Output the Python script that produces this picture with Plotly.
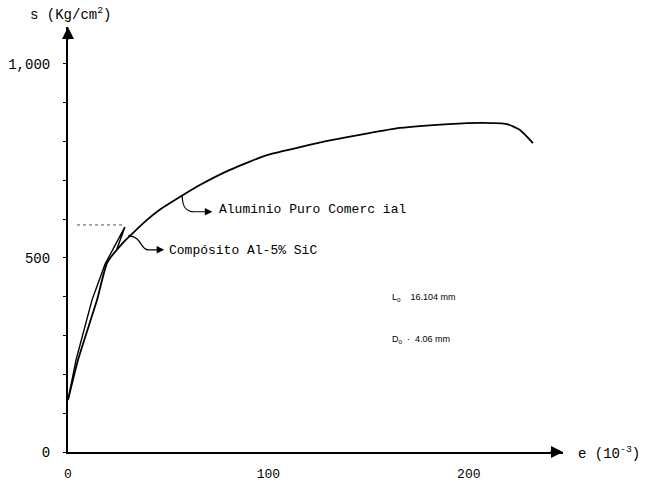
import plotly.graph_objects as go

# Aluminio Puro Comercial (stress-strain)
alu_x = [0, 5, 14.5, 19.5, 27.4, 39.4, 45.9, 57, 65.8, 80.8, 99.3, 132, 165.6, 190, 207, 219, 225.4, 232]
alu_y = [134, 237, 392, 487, 539, 598, 625, 661, 688, 727, 765, 804, 835, 845, 848, 845, 830, 796]

# Compósito Al-5% SiC
comp_x = [0, 4, 12, 18.5, 28.4, 24.4]
comp_y = [134, 237, 392, 484, 580, 523]

# dotted reference line (max stress of composite)
ref_x = [4.5, 27]
ref_y = [585, 585]

y_tickvals = [0, 500, 1000]
y_ticktext = ["0", "500", "1,000"]
x_tickvals = [0, 100, 200]
x_ticktext = ["0", "100", "200"]

X_MAX = 247
Y_MAX = 1095
MONO = "Liberation Mono"

# plot-area geometry in pixels (for placing free text)
W, H = 656, 482
L, R, T, B = 68, 93, 27, 30
PW, PH = W - L - R, H - T - B


def px_to_paper(px, py):
    return (px - L) / PW, (H - B - py) / PH


fig = go.Figure()
fig.add_trace(go.Scatter(x=alu_x, y=alu_y, mode="lines",
                         line=dict(color="black", width=1.8, shape="spline", smoothing=0.5),
                         showlegend=False))
fig.add_trace(go.Scatter(x=comp_x, y=comp_y, mode="lines",
                         line=dict(color="black", width=1.4),
                         showlegend=False))
fig.add_trace(go.Scatter(x=ref_x, y=ref_y, mode="lines",
                         line=dict(color="#555555", width=1, dash="dot"),
                         showlegend=False))

fig.update_layout(
    width=W, height=H,
    margin=dict(l=L, r=R, t=T, b=B, autoexpand=False),
    paper_bgcolor="white", plot_bgcolor="white",
    font=dict(family=MONO, size=14, color="black"),
    xaxis=dict(range=[0, X_MAX], showgrid=False, zeroline=False, showline=True, automargin=False,
               linecolor="black", linewidth=2, tickvals=x_tickvals, ticktext=x_ticktext,
               ticks="", ticklabelstandoff=8, tickfont=dict(family=MONO, size=13)),
    yaxis=dict(range=[0, Y_MAX], showgrid=False, zeroline=False, showline=True, automargin=False,
               linecolor="black", linewidth=2, tickvals=y_tickvals, ticktext=y_ticktext,
               ticks="outside", ticklen=3, tickwidth=1, tickcolor="black",
               minor=dict(dtick=100, tick0=0, ticks="outside", ticklen=3, tickwidth=1, tickcolor="black"),
               ticklabelstandoff=10, tickfont=dict(family=MONO, size=14)),
)

# axis arrowheads
fig.add_annotation(x=0, y=Y_MAX, xref="x", yref="y", ax=0, ay=14,
                   text="", showarrow=True, arrowhead=2, arrowsize=1.2, arrowwidth=2, arrowcolor="black")
fig.add_annotation(x=X_MAX, y=0, xref="x", yref="y", ax=-14, ay=0,
                   text="", showarrow=True, arrowhead=2, arrowsize=1.2, arrowwidth=2, arrowcolor="black")

# axis titles
tx, ty = px_to_paper(28, 14)
fig.add_annotation(x=tx, y=ty, xref="paper", yref="paper",
                   text="s (Kg/cm<sup>2</sup>)", showarrow=False, xanchor="left", yanchor="middle",
                   font=dict(family=MONO, size=14))
ex, ey = px_to_paper(576, 453)
fig.add_annotation(x=ex, y=ey, xref="paper", yref="paper",
                   text="e (10<sup>-3</sup>)", showarrow=False, xanchor="left", yanchor="middle",
                   font=dict(family=MONO, size=14))

# squiggle leaders
fig.add_shape(type="path", xref="x", yref="y",
              path="M 57,661 C 57,630 59,619 63,619 L 70,619",
              line=dict(color="black", width=1.2))
fig.add_annotation(x=72, y=619, xref="x", yref="y", ax=-8, ay=0, text="", showarrow=True,
                   arrowhead=2, arrowsize=1, arrowwidth=1.5, arrowcolor="black")
fig.add_annotation(x=74.5, y=624, xref="x", yref="y", text="Aluminio Puro Comerc ial",
                   showarrow=False, xanchor="left", yanchor="middle",
                   font=dict(family=MONO, size=13))

fig.add_shape(type="path", xref="x", yref="y",
              path="M 30,557 C 37,556 36,521 40,521 L 46,521",
              line=dict(color="black", width=1.2))
fig.add_annotation(x=48, y=521, xref="x", yref="y", ax=-8, ay=0, text="", showarrow=True,
                   arrowhead=2, arrowsize=1, arrowwidth=1.5, arrowcolor="black")
fig.add_annotation(x=49.5, y=518, xref="x", yref="y", text="Compósito Al-5% SiC",
                   showarrow=False, xanchor="left", yanchor="middle",
                   font=dict(family=MONO, size=13))

# specimen dimensions
fig.add_annotation(x=160.5, y=399, xref="x", yref="y", text="L<sub>o</sub>    16.104 mm",
                   showarrow=False, xanchor="left", yanchor="middle",
                   font=dict(family="Liberation Sans", size=9))
fig.add_annotation(x=160.5, y=289, xref="x", yref="y", text="D<sub>o</sub>  ·  4.06 mm",
                   showarrow=False, xanchor="left", yanchor="middle",
                   font=dict(family="Liberation Sans", size=9))

fig.write_html("out.html", config={"displayModeBar": False},
               post_script="document.body.style.margin='0';")
